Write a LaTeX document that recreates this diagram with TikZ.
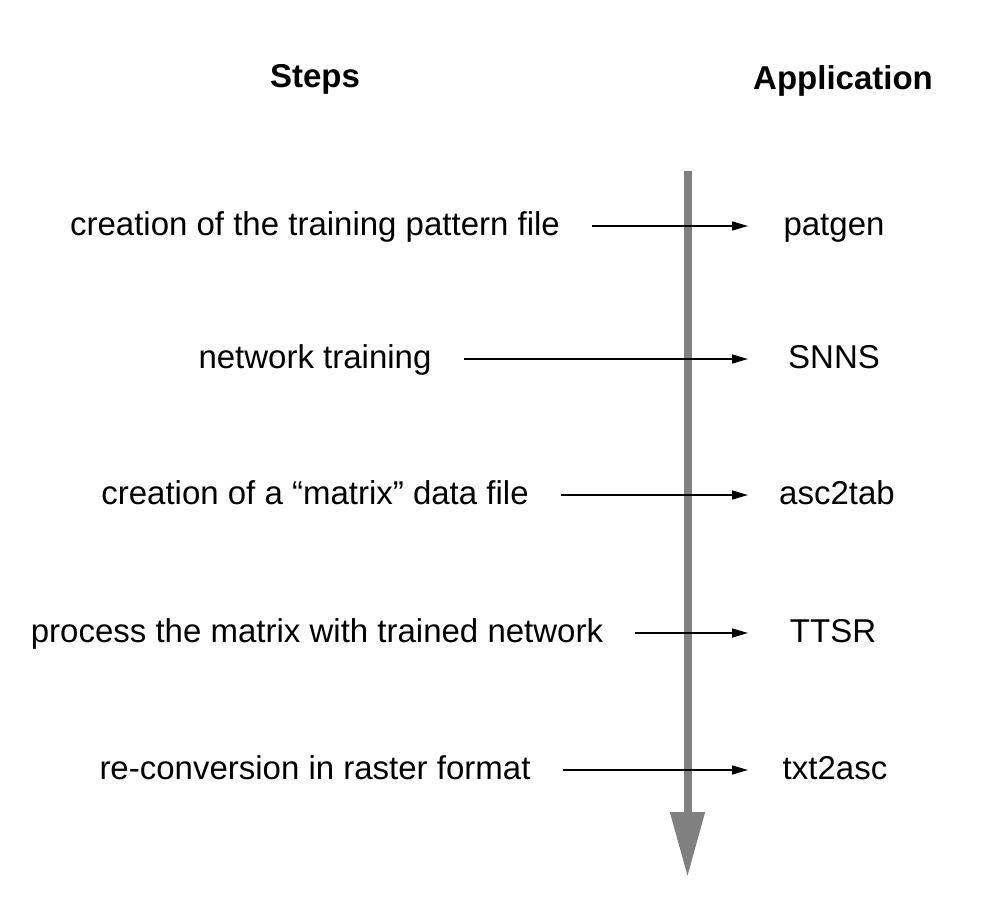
\documentclass[tikz,border=0pt]{standalone}
\usepackage{fontspec}
\setmainfont{Liberation Sans}
\usetikzlibrary{arrows.meta}
\definecolor{axisgray}{HTML}{808080}
\begin{document}
\begin{tikzpicture}[x=1pt,y=-1pt,
  lbl/.style={inner sep=0pt,font=\fontsize{33}{40}\selectfont,text height=25.5pt,text depth=6.5pt},
  head/.style={inner sep=0pt,font=\fontsize{33}{40}\selectfont\bfseries,anchor=base},
  arr/.style={line width=1.5pt,-{Triangle[length=16pt,width=9pt]}},
  axis/.style={draw=axisgray,line width=8pt,-{Triangle[length=65pt,width=33pt]}}]
\useasboundingbox[fill=white] (0,0) rectangle (1001,917);
\node[head] (hs) at (315,88) {Steps};
\node[head] (ha) at (843,90) {Application};
\coordinate (top) at (687.5,171);
\coordinate (bot) at (687.5,877);
\draw[axis,fill=axisgray] (top) -- (bot);
\coordinate (tip) at (748,0);
\node[lbl] (s1) at (315,226) {creation of the training pattern file};
\node[lbl] (s2) at (315,359) {network training};
\node[lbl] (s3) at (315,495) {creation of a “matrix” data file};
\node[lbl] (s4) at (317,633) {process the matrix with trained network};
\node[lbl] (s5) at (315,770) {re-conversion in raster format};
\node[lbl] (a1) at (834,226) {patgen};
\node[lbl] (a2) at (834,359) {SNNS};
\node[lbl] (a3) at (837,495) {asc2tab};
\node[lbl] (a4) at (833,633) {TTSR};
\node[lbl] (a5) at (835,770) {txt2asc};
\foreach \i in {1,...,5}{
  \draw[arr] ([xshift=32pt]s\i.east) -- (s\i.east -| tip);
}
\end{tikzpicture}
\end{document}
